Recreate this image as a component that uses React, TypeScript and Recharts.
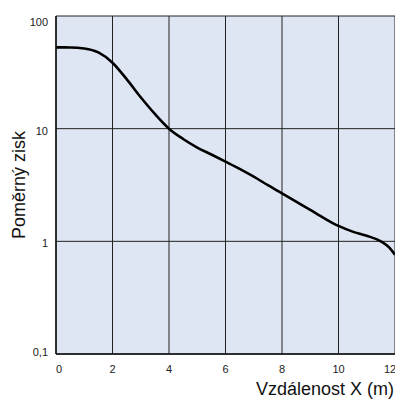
import React from 'react';
import { LineChart, Line, XAxis, YAxis, CartesianGrid, Label } from 'recharts';

const distances = [0, 0.5, 1, 1.5, 2, 2.5, 3, 3.5, 4, 4.5, 5, 5.5, 6, 6.5, 7, 7.5, 8, 8.5, 9, 9.5, 10, 10.5, 11, 11.5, 11.8, 12];
const gains = [52.7, 52.6, 51.5, 47.5, 38.5, 27.5, 19, 13.5, 10, 8.1, 6.8, 5.9, 5.1, 4.4, 3.75, 3.15, 2.67, 2.25, 1.9, 1.6, 1.37, 1.22, 1.12, 1.0, 0.88, 0.76];
const xTicks = [0, 2, 4, 6, 8, 10, 12];
const yTicks = [0.1, 1, 10, 100];
const xTitle = 'Vzdálenost X (m)';
const yTitle = 'Poměrný zisk';

const data = distances.map((x, i) => ({ x, y: gains[i] }));

const FONT = '"Liberation Sans", Arial, Helvetica, sans-serif';

const fmtY = (v: number) => String(v).replace('.', ',');

const YTick = (props: any) => {
  const { x, y, payload, index } = props;
  const n = yTicks.length;
  const dy = index === n - 1 ? 6 : index === 0 ? -2 : 2;
  return (
    <text x={x} y={y + dy} dy="0.355em" textAnchor="end" fontSize={11} fill="#222" fontFamily={FONT}>
      {fmtY(payload.value)}
    </text>
  );
};

const XTick = (props: any) => {
  const { x, y, payload, index } = props;
  const n = xTicks.length;
  const dx = index === 0 ? 3 : index === n - 1 ? -5 : 0;
  return (
    <text x={x + dx} y={y} dy="0.71em" textAnchor="middle" fontSize={11} fill="#222" fontFamily={FONT}>
      {payload.value}
    </text>
  );
};

const YTitle = (props: any) => {
  const vb = props.viewBox || { x: 0, y: 16, width: 56, height: 338 };
  const cx = vb.x + 25;
  const cy = vb.y + vb.height / 2;
  return (
    <text x={cx} y={cy} transform={`rotate(-90, ${cx}, ${cy})`} textAnchor="middle" fontSize={18} fill="#111" fontFamily={FONT}>
      {yTitle}
    </text>
  );
};

const XTitle = (props: any) => {
  const vb = props.viewBox || { x: 56, y: 354, width: 339, height: 47 };
  return (
    <text x={394} y={vb.y + 41} textAnchor="end" fontSize={18} fill="#111" fontFamily={FONT}>
      {xTitle}
    </text>
  );
};

export default function App() {
  return (
    <div style={{ position: 'absolute', left: 0, top: 0, width: 395, height: 401, overflow: 'hidden', background: '#fff' }}>
      <LineChart width={400} height={401} data={data} margin={{ top: 16, right: 5, bottom: 0, left: 0 }}>
        <CartesianGrid fill="#dfe6f3" stroke="#222" strokeWidth={1} strokeOpacity={1} />
        <XAxis
          dataKey="x"
          type="number"
          domain={[0, 12]}
          ticks={xTicks}
          height={47}
          tickSize={0}
          tickMargin={11}
          tickLine={false}
          axisLine={{ stroke: '#111', strokeWidth: 1.5 }}
          tick={<XTick />}
          interval={0}
        >
          <Label content={<XTitle />} />
        </XAxis>
        <YAxis
          dataKey="y"
          scale="log"
          domain={[0.1, 100]}
          ticks={yTicks}
          width={56}
          tickSize={0}
          tickMargin={8}
          tickLine={false}
          axisLine={{ stroke: '#111', strokeWidth: 1.5 }}
          tick={<YTick />}
          interval={0}
          allowDataOverflow
        >
          <Label content={<YTitle />} />
        </YAxis>
        <Line
          type="monotone"
          dataKey="y"
          stroke="#000"
          strokeWidth={2.6}
          dot={false}
          isAnimationActive={false}
        />
      </LineChart>
    </div>
  );
}
